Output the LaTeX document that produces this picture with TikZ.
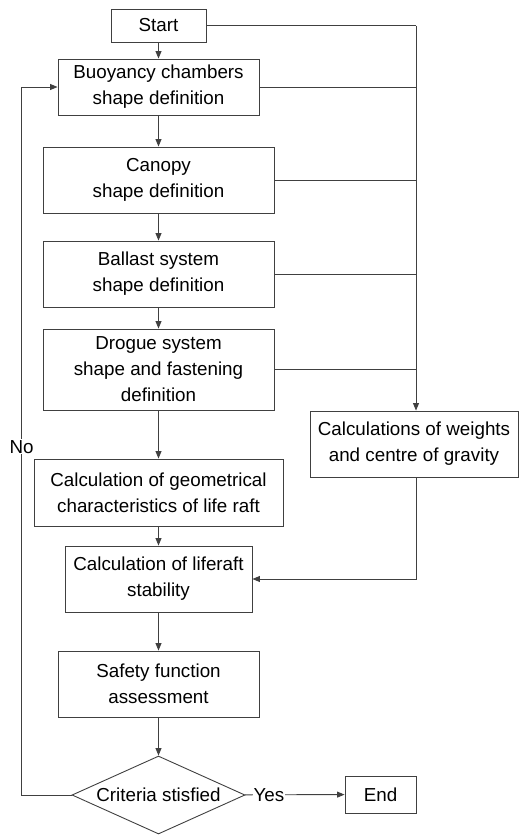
\documentclass[tikz,border=0pt]{standalone}
\usepackage{fontspec}
\setmainfont{Liberation Sans}
\usetikzlibrary{shapes.geometric, arrows.meta}

\begin{document}
\begin{tikzpicture}
        [x=1pt, y=-1pt, every node/.style={font=\fontsize{18.8}{26}\selectfont, inner sep=0, align=center},
        box/.style={draw=black!75, line width=0.9pt, rectangle, minimum height=66pt},
        decision/.style={draw=black!75, line width=0.9pt, diamond, aspect=2.2, minimum width=173pt, minimum height=78pt},
        line/.style={draw=black!75, line width=0.9pt},
        arrow/.style={line, -{Triangle[length=7.5pt, width=6pt]}}]

        \useasboundingbox (0, 0) rectangle (519, 835);

        \node[box, minimum width=95pt, minimum height=33pt] (start) at (158.5, 25.5) {Start};
        \node[box, minimum width=201pt, minimum height=56pt] (buoy) at (158.5, 87) {Buoyancy chambers\\shape definition};
        \node[box, minimum width=231pt] (canopy) at (158.5, 180) {Canopy\\shape definition};
        \node[box, minimum width=231pt] (ballast) at (158.5, 274) {Ballast system\\shape definition};
        \node[box, minimum width=231pt, minimum height=81pt] (drogue) at (158.5, 369.5) {Drogue system\\shape and fastening\\definition};
        \node[box, minimum width=249pt, minimum height=67pt] (geom) at (158.5, 492.5) {Calculation of geometrical\\characteristics of life raft};
        \node[box, minimum width=187pt] (stab) at (158.5, 579) {Calculation of liferaft\\stability};
        \node[box, minimum width=201pt] (safety) at (158.5, 684) {Safety function\\assessment};
        \node[decision] (crit) at (158.5, 795) {Criteria stisfied};
        \node[box, minimum width=71pt, minimum height=37pt] (stop) at (380.5, 794.5) {End};
        \node[box, minimum width=208pt] (weights) at (414, 444) {Calculations of weights\\and centre of gravity};

        \coordinate (bus) at (416, 25.5);

        \foreach \a/\b in {start/buoy, buoy/canopy, canopy/ballast, ballast/drogue, drogue/geom, geom/stab, stab/safety, safety/crit}
          \draw[arrow] (\a) -- (\b);

        \draw[line] (start) -- (bus);
        \draw[arrow] (bus) -- (bus |- weights.north);
        \foreach \n in {buoy, canopy, ballast, drogue}
          \draw[line] (\n.east) -- (bus |- \n.east);
        \draw[arrow] (bus |- weights.south) |- (stab.east);

        \draw[arrow] (crit.west) -- ++(-50, 0) |- node[pos=0.246, fill=white, inner sep=1pt] (no) {No} (buoy.west);
        \draw[arrow] (crit) -- node[pos=0.24, fill=white, inner sep=1pt] (yes) {Yes} (stop);

      \end{tikzpicture}
\end{document}
